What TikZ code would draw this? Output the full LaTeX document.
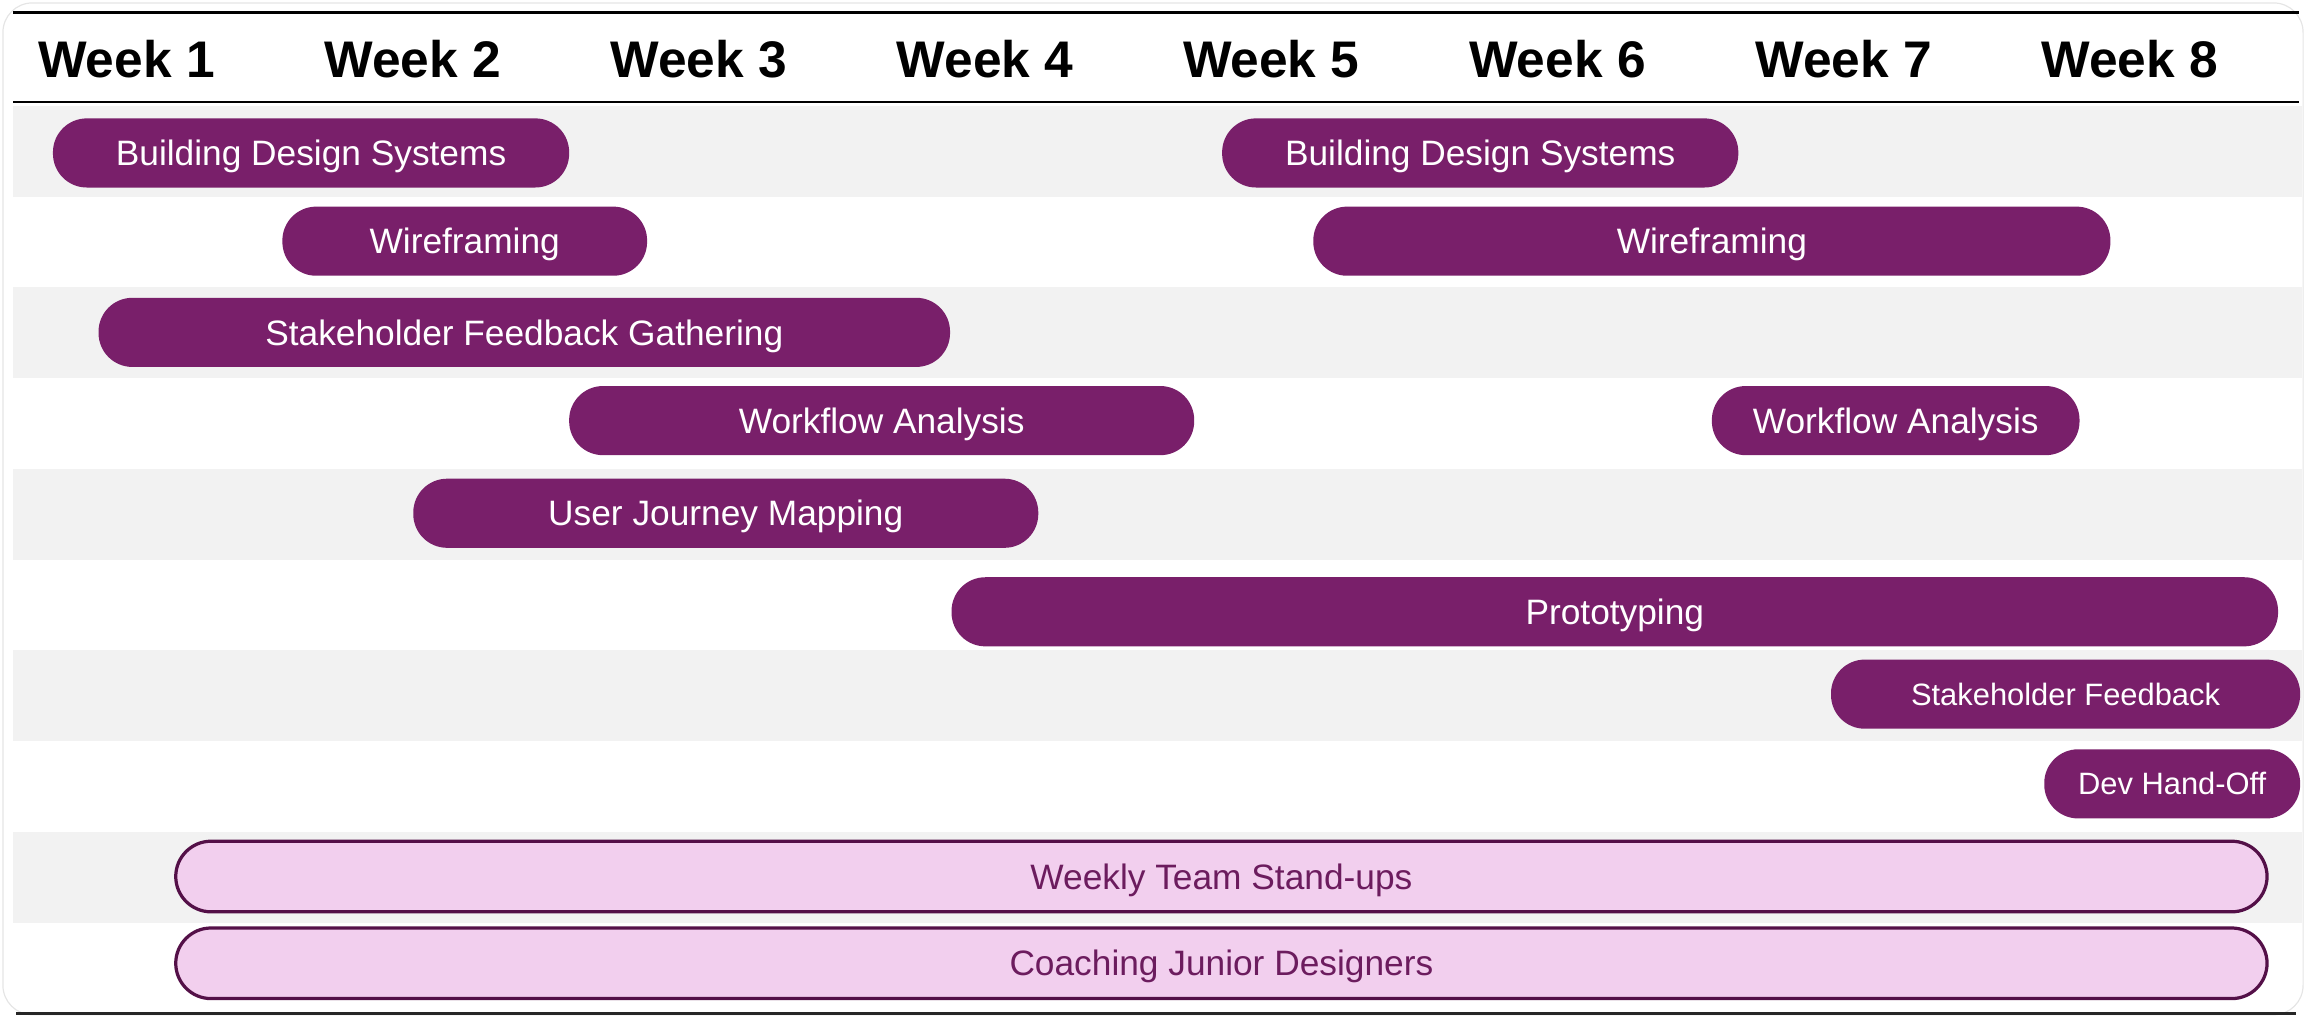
\documentclass[tikz,border=0pt]{standalone}
\usepackage{fontspec}
\setmainfont{Liberation Sans}
\usepackage{tikz}
\usepackage{xcolor}

\definecolor{plum}{RGB}{121,31,106}
\definecolor{plumdark}{RGB}{84,16,72}
\definecolor{plumtext}{RGB}{108,28,94}
\definecolor{blush}{RGB}{242,207,238}
\definecolor{bandgrey}{RGB}{242,242,242}

\begin{document}
\begin{tikzpicture}[x=1pt,y=1pt,yscale=-1,xscale=1,
    week/.style={inner sep=0pt, text height=25pt, text depth=0pt, font=\fontsize{35}{40}\selectfont\bfseries},
    task/.style={fill=plum, text=white, minimum height=47, rounded corners=23, inner sep=0pt, text height=17.2pt, text depth=0pt, font=\fontsize{24}{28}\selectfont},
    smalltask/.style={task, text height=15pt, font=\fontsize{21}{25}\selectfont},
    ongoing/.style={fill=blush, draw=plumdark, line width=2.2, text=plumtext, minimum height=48, rounded corners=24, inner sep=0pt, text height=17.2pt, text depth=0pt, font=\fontsize{24}{28}\selectfont},
    band/.style={fill=bandgrey}]
\useasboundingbox (0,0) rectangle (1568,692);

%Card outline
\draw [black!10, line width=0.8, rounded corners=20] (2,2) rectangle (1566,690);

%Row bands
\foreach \r in {0,2,4,6,8}
    \fill [band] (9,72+61.7*\r) rectangle (1565,72+61.7*\r+61.7);

%Header rules
\draw [line width=1.5] (9,8.5) -- (1563,8.5);
\draw [line width=1.5] (9,69.5) -- (1563,69.5);
\draw [line width=2.2, black!85] (11,689) -- (1561,689);

% Week labels
\foreach \w in {1,...,8}
    \node [week] (week\w) at (86+194.6*\w-194.6,40) {Week \w};

% Task Bars
\node [task, minimum width=351] (design1) at (211.5,104) {Building Design Systems};
\node [task, minimum width=351] (design2) at (1006.5,104) {Building Design Systems};
\node [task, minimum width=248] (wire1) at (316,164) {Wireframing};
\node [task, minimum width=542] (wire2) at (1164,164) {Wireframing};
\node [task, minimum width=579] (feedback) at (356.5,226) {Stakeholder Feedback Gathering};
\node [task, minimum width=425] (flow1) at (599.5,286) {Workflow Analysis};
\node [task, minimum width=250] (flow2) at (1289,286) {Workflow Analysis};
\node [task, minimum width=425] (journey) at (493.5,349) {User Journey Mapping};
\node [task, minimum width=902] (proto) at (1098,416) {Prototyping};
\node [smalltask, minimum width=319] (review) at (1404.5,472) {Stakeholder Feedback};
\node [smalltask, minimum width=174] (handoff) at (1477,533) {Dev Hand-Off};

% Ongoing Bars
\node [ongoing, minimum width=1422] (standup) at (830.5,596) {Weekly Team Stand-ups};
\node [ongoing, minimum width=1422] (coaching) at (830.5,655) {Coaching Junior Designers};

\end{tikzpicture}
\end{document}
